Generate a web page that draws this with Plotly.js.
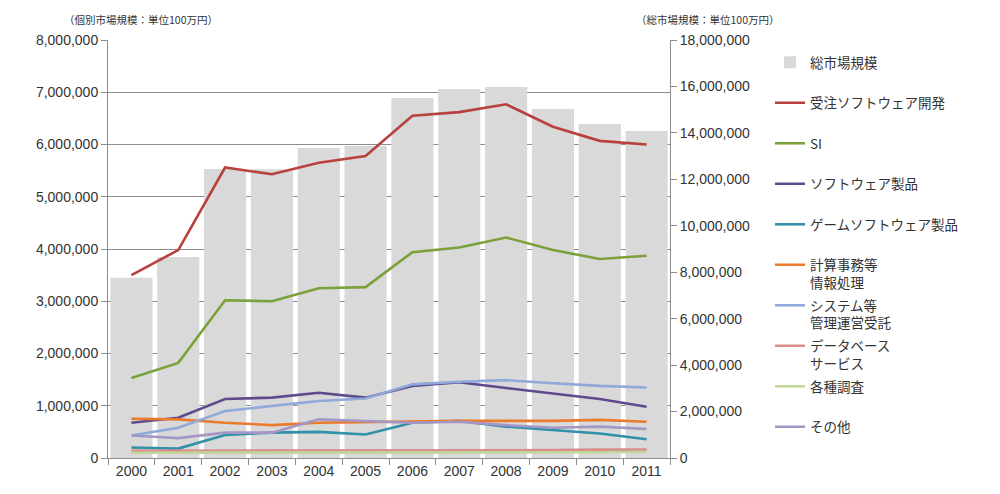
<!DOCTYPE html>
<html>
<head>
<meta charset="utf-8">
<script src="https://cdn.plot.ly/plotly-3.0.1.min.js"></script>
<style>
  html, body { margin: 0; padding: 0; background: #fff; }
  #plot { width: 1000px; height: 494px; }
</style>
</head>
<body>
<div id="plot"></div>
<script>
// 情報サービス市場規模 (単位: 100万円)
var years = ['2000', '2001', '2002', '2003', '2004', '2005', '2006', '2007', '2008', '2009', '2010', '2011'];

// 総市場規模 (right axis, bars)
var totalMarket = [7760000, 8660000, 12440000, 12430000, 13350000, 13440000, 15500000, 15890000, 15980000, 15030000, 14380000, 14080000];

// 個別市場規模 (left axis, lines)
var contractSoftware = [3500000, 3980000, 5560000, 5430000, 5650000, 5780000, 6550000, 6620000, 6770000, 6340000, 6070000, 6000000];
var systemIntegration = [1530000, 1820000, 3020000, 3000000, 3250000, 3270000, 3940000, 4030000, 4220000, 3980000, 3810000, 3870000];
var softwareProducts = [675000, 770000, 1130000, 1155000, 1250000, 1155000, 1380000, 1450000, 1340000, 1230000, 1130000, 980000];
var gameSoftware = [200000, 180000, 440000, 485000, 500000, 450000, 675000, 710000, 600000, 540000, 470000, 360000];
var computing = [750000, 740000, 675000, 630000, 675000, 690000, 700000, 710000, 710000, 710000, 730000, 695000];
var systemManagement = [430000, 580000, 900000, 1000000, 1090000, 1140000, 1410000, 1460000, 1490000, 1430000, 1380000, 1350000];
var databaseService = [140000, 140000, 140000, 140000, 140000, 140000, 150000, 150000, 150000, 150000, 160000, 160000];
var research = [100000, 100000, 100000, 100000, 100000, 100000, 110000, 110000, 110000, 110000, 110000, 120000];
var others = [430000, 380000, 485000, 485000, 740000, 710000, 675000, 695000, 630000, 580000, 600000, 555000];

var lineSeries = [
  { name: '受注ソフトウェア開発', values: contractSoftware, color: '#B8413D' },
  { name: 'SI', values: systemIntegration, color: '#7BA23A' },
  { name: 'ソフトウェア製品', values: softwareProducts, color: '#5E4A8C' },
  { name: 'ゲームソフトウェア製品', values: gameSoftware, color: '#3091A8' },
  { name: '計算事務等<br>情報処理', values: computing, color: '#EA7A2C' },
  { name: 'システム等<br>管理運営受託', values: systemManagement, color: '#8FA9D8' },
  { name: 'データベース<br>サービス', values: databaseService, color: '#D98E8C' },
  { name: '各種調査', values: research, color: '#C2D69A' },
  { name: 'その他', values: others, color: '#A497C6' }
];

var jp = '"Noto Sans CJK JP", "Noto Sans", sans-serif';
var num = '"Liberation Sans", Arial, sans-serif';

// bars on the primary axis so the lines (overlay axis) draw on top of them
var traces = [{
  type: 'bar',
  name: '総市場規模',
  x: years,
  y: totalMarket,
  yaxis: 'y',
  marker: { color: '#D9D9D9' },
  legend: 'legend',
  hoverinfo: 'x+y'
}];

lineSeries.forEach(function (s, i) {
  traces.push({
    type: 'scatter',
    mode: 'lines',
    name: s.name,
    x: years,
    y: s.values,
    yaxis: 'y2',
    line: { color: s.color, width: 2.6 },
    legend: 'legend' + (i + 2)
  });
});

var plotTop = 40, plotBottom = 458;
function paperY(px) { return (plotBottom - px) / (plotBottom - plotTop); }

var layout = {
  width: 1000,
  height: 494,
  margin: { l: 108, r: 330, t: 40, b: 36 },
  paper_bgcolor: '#ffffff',
  plot_bgcolor: '#ffffff',
  showlegend: true,
  bargap: 0.1,
  font: { family: num, size: 14, color: '#333333' },
  xaxis: {
    type: 'category',
    showline: true,
    linecolor: '#8C8C8C',
    linewidth: 1,
    ticks: 'outside',
    tickson: 'boundaries',
    ticklen: 6,
    tickcolor: '#8C8C8C',
    showgrid: false,
    tickfont: { family: num, size: 14, color: '#333333' }
  },
  yaxis: {
    side: 'right',
    range: [0, 18000000],
    dtick: 2000000,
    tickformat: ',d',
    showline: true,
    linecolor: '#8C8C8C',
    ticks: 'outside',
    ticklen: 6,
    tickcolor: '#8C8C8C',
    showgrid: false,
    zeroline: false,
    tickfont: { family: num, size: 14, color: '#333333' }
  },
  yaxis2: {
    overlaying: 'y',
    side: 'left',
    range: [0, 8000000],
    dtick: 1000000,
    tickformat: ',d',
    showline: true,
    linecolor: '#8C8C8C',
    ticks: 'outside',
    ticklen: 6,
    tickcolor: '#8C8C8C',
    showgrid: true,
    gridcolor: '#8C8C8C',
    gridwidth: 1,
    zeroline: false,
    tickfont: { family: num, size: 14, color: '#333333' }
  },
  annotations: [
    {
      text: '（個別市場規模：単位100万円）',
      xref: 'paper', yref: 'paper',
      x: (141 - 108) / 562, y: paperY(20),
      xanchor: 'center', yanchor: 'middle',
      showarrow: false,
      font: { family: jp, size: 10.5, color: '#333333' }
    },
    {
      text: '（総市場規模：単位100万円）',
      xref: 'paper', yref: 'paper',
      x: (707 - 108) / 562, y: paperY(20),
      xanchor: 'center', yanchor: 'middle',
      showarrow: false,
      font: { family: jp, size: 10.5, color: '#333333' }
    }
  ]
};

// one legend box per entry, spaced like the original's fixed slots
for (var i = 0; i < 10; i++) {
  var key = i === 0 ? 'legend' : 'legend' + (i + 1);
  layout[key] = {
    x: (770 - 108) / 562,
    xanchor: 'left',
    y: paperY(63 + i * 40.5 - 16),
    yanchor: 'top',
    valign: 'top',
    bgcolor: 'rgba(0,0,0,0)',
    borderwidth: 0,
    font: { family: jp, size: 13.5, color: '#333333' }
  };
}

Plotly.newPlot('plot', traces, layout, { displayModeBar: false, staticPlot: true });
</script>
</body>
</html>
